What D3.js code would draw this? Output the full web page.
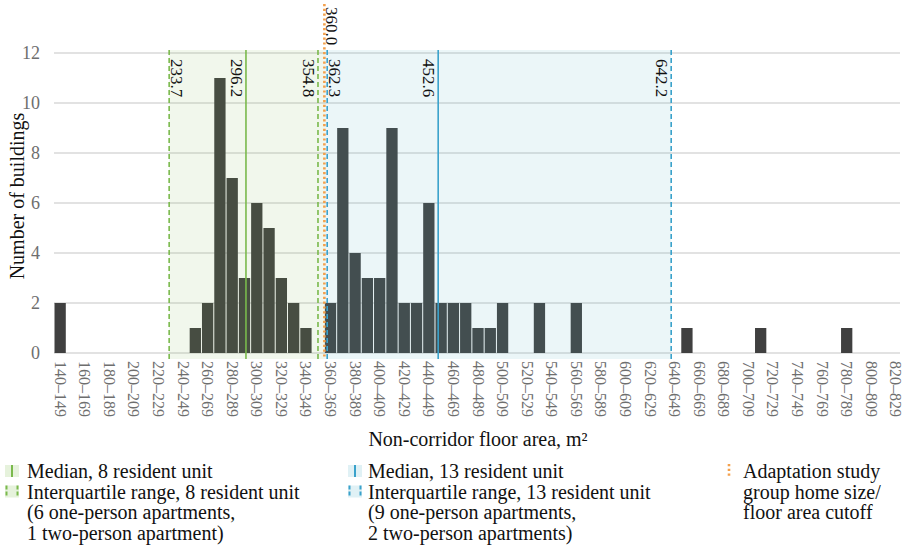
<!DOCTYPE html>
<html>
<head>
<meta charset="utf-8">
<script src="https://cdn.jsdelivr.net/npm/d3@7"></script>
<style>
  html, body { margin: 0; padding: 0; background: #fff; }
  svg { display: block; }
  svg text { font-family: "Liberation Serif", "Times New Roman", Times, "DejaVu Serif", serif; }
</style>
</head>
<body>
<svg id="chart" width="904" height="545"></svg>
<script>
// ---- data ----
const binLabels = [
  "140–149","150–159","160–169","170–179","180–189","190–199","200–209","210–219","220–229","230–239",
  "240–249","250–259","260–269","270–279","280–289","290–299","300–309","310–319","320–329","330–339",
  "340–349","350–359","360–369","370–379","380–389","390–399","400–409","410–419","420–429","430–439",
  "440–449","450–459","460–469","470–479","480–489","490–499","500–509","510–519","520–529","530–539",
  "540–549","550–559","560–569","570–579","580–589","590–599","600–609","610–619","620–629","630–639",
  "640–649","650–659","660–669","670–679","680–689","690–699","700–709","710–719","720–729","730–739",
  "740–749","750–759","760–769","770–779","780–789","790–799","800–809","810–819","820–829"
];
const binStarts = [
  140,150,160,170,180,190,200,210,220,230,
  240,250,260,270,280,290,300,310,320,330,
  340,350,360,370,380,390,400,410,420,430,
  440,450,460,470,480,490,500,510,520,530,
  540,550,560,570,580,590,600,610,620,630,
  640,650,660,670,680,690,700,710,720,730,
  740,750,760,770,780,790,800,810,820
];
const counts = [
  2,0,0,0,0,0,0,0,0,0,
  0,1,2,11,7,3,6,5,3,2,
  1,0,2,9,4,3,3,9,2,2,
  6,2,2,2,1,1,2,0,0,2,
  0,0,2,0,0,0,0,0,0,0,
  0,1,0,0,0,0,0,1,0,0,
  0,0,0,0,1,0,0,0,0
];
const yTicks = [0, 2, 4, 6, 8, 10, 12];
const markerNames  = ["iqr8Low", "median8", "iqr8High", "cutoff", "iqr13Low", "median13", "iqr13High"];
const markerValues = [233.7, 296.2, 354.8, 360.0, 362.3, 452.6, 642.2];
const markerLabels = ["233.7", "296.2", "354.8", "360.0", "362.3", "452.6", "642.2"];
const legend8  = ["Median, 8 resident unit", "Interquartile range, 8 resident unit", "(6 one-person apartments,", "1 two-person apartment)"];
const legend13 = ["Median, 13 resident unit", "Interquartile range, 13 resident unit", "(9 one-person apartments,", "2 two-person apartments)"];
const legendCut = ["Adaptation study", "group home size/", "floor area cutoff"];

// ---- styles ----
const FONT = "'Liberation Serif', 'Times New Roman', Times, 'DejaVu Serif', serif";
const GREEN = "#7ab94c", BLUE = "#3aa2cb", ORANGE = "#f3a04c";
const GREEN_BG = "rgba(125,185,80,0.11)", BLUE_BG = "rgba(90,180,200,0.12)";
const BAR = "#404040";

const svg = d3.select("#chart").attr("font-family", FONT);
const x = d3.scaleLinear().domain([140, 830]).range([54, 902]);
const y = d3.scaleLinear().domain([0, 12]).range([353, 53]);
const mv = name => markerValues[markerNames.indexOf(name)];

// gridlines
svg.append("g").selectAll("line").data(yTicks).join("line")
  .attr("x1", 54).attr("x2", 900)
  .attr("y1", d => y(d)).attr("y2", d => y(d))
  .attr("stroke", "#d8d8d8").attr("stroke-width", 1.5);

// y tick labels
svg.append("g").selectAll("text").data(yTicks).join("text")
  .attr("x", 40).attr("y", d => y(d)).attr("dy", "0.35em")
  .attr("text-anchor", "end").attr("font-size", 18).attr("fill", "#6e6e6e")
  .attr("font-family", FONT)
  .text(d => d);

// bars
svg.append("g").selectAll("rect").data(counts.map((c, i) => ({ s: binStarts[i], c })).filter(d => d.c > 0)).join("rect")
  .attr("x", d => x(d.s) + 0.5)
  .attr("width", d => x(d.s + 10) - x(d.s) - 1)
  .attr("y", d => y(d.c))
  .attr("height", d => y(0) - y(d.c))
  .attr("fill", BAR);

// shaded regions
const shTop = y(12) - 3, shBot = y(0) + 6;
svg.append("rect").attr("x", x(mv("iqr8Low"))).attr("width", x(mv("cutoff")) - x(mv("iqr8Low")))
  .attr("y", shTop).attr("height", shBot - shTop).attr("fill", GREEN_BG);
svg.append("rect").attr("x", x(mv("cutoff"))).attr("width", x(mv("iqr13High")) - x(mv("cutoff")))
  .attr("y", shTop).attr("height", shBot - shTop).attr("fill", BLUE_BG);

// marker lines
function vline(val, color, dash, top) {
  svg.append("line").attr("x1", x(val)).attr("x2", x(val))
    .attr("y1", top).attr("y2", shBot)
    .attr("stroke", color).attr("stroke-width", dash === "dot" ? 2.6 : 1.6)
    .attr("stroke-dasharray", dash === "dash" ? "5,3" : dash === "dot" ? "2.2,2.6" : null);
}
vline(mv("iqr8Low"), GREEN, "dash", shTop);
vline(mv("median8"), GREEN, null, shTop);
vline(mv("iqr8High"), GREEN, "dash", shTop);
vline(mv("iqr13Low"), BLUE, "dash", shTop);
vline(mv("median13"), BLUE, null, shTop);
vline(mv("iqr13High"), BLUE, "dash", shTop);
vline(mv("cutoff"), ORANGE, "dot", 4);

// marker labels (rotated, reading top to bottom)
const labelSide = { iqr8Low: "right", median8: "left", iqr8High: "left", cutoff: "right", iqr13Low: "right", median13: "left", iqr13High: "left" };
markerNames.forEach((n, i) => {
  const xv = x(markerValues[i]);
  const yTop = n === "cutoff" ? 7 : 59;
  const bx = labelSide[n] === "right" ? xv + 1.5 : xv - 15;
  svg.append("text")
    .attr("transform", `translate(${bx},${yTop}) rotate(90)`)
    .attr("font-size", 17).attr("fill", "#111").attr("font-family", FONT)
    .attr("text-anchor", "start")
    .text(markerLabels[i]);
});

// x tick labels (every other bin)
svg.append("g").selectAll("text").data(binLabels.map((l, i) => ({ l, s: binStarts[i] })).filter((d, i) => i % 2 === 0)).join("text")
  .attr("transform", d => `translate(${(x(d.s) + x(d.s + 10)) / 2 - 5.5},${361}) rotate(90)`)
  .attr("font-size", 16).attr("fill", "#6e6e6e").attr("font-family", FONT)
  .text(d => d.l);

// axis titles
svg.append("text").attr("x", 478).attr("y", 446).attr("text-anchor", "middle")
  .attr("font-size", 20).attr("fill", "#111").attr("font-family", FONT).text("Non-corridor floor area, m²");
svg.append("text").attr("transform", "translate(24,196) rotate(-90)").attr("text-anchor", "middle")
  .attr("font-size", 20).attr("fill", "#111").attr("font-family", FONT).text("Number of buildings");

// legend
const rowY = [478, 498.5, 519, 539.5];
function legendCol(x0, tx, lines, color, bg) {
  svg.append("rect").attr("x", x0).attr("y", rowY[0] - 13).attr("width", 14).attr("height", 12).attr("fill", bg);
  svg.append("line").attr("x1", x0 + 7).attr("x2", x0 + 7).attr("y1", rowY[0] - 13).attr("y2", rowY[0] - 1)
    .attr("stroke", color).attr("stroke-width", 2);
  svg.append("rect").attr("x", x0).attr("y", rowY[1] - 13).attr("width", 14).attr("height", 12).attr("fill", bg);
  [x0 + 1.5, x0 + 12.5].forEach(lx => svg.append("line").attr("x1", lx).attr("x2", lx)
    .attr("y1", rowY[1] - 13).attr("y2", rowY[1] - 1)
    .attr("stroke", color).attr("stroke-width", 2).attr("stroke-dasharray", "4,2"));
  lines.forEach((t, i) => svg.append("text").attr("x", tx).attr("y", rowY[i])
    .attr("font-size", 20).attr("fill", "#111").attr("font-family", FONT).text(t));
}
legendCol(5, 27, legend8, GREEN, "#e6f2dc");
legendCol(348, 368, legend13, BLUE, "#e0f1f5");
svg.append("line").attr("x1", 729).attr("x2", 729).attr("y1", rowY[0] - 14).attr("y2", rowY[0])
  .attr("stroke", ORANGE).attr("stroke-width", 2.6).attr("stroke-dasharray", "2.2,2.6");
legendCut.forEach((t, i) => svg.append("text").attr("x", 743).attr("y", rowY[i])
  .attr("font-size", 20).attr("fill", "#111").attr("font-family", FONT).text(t));
</script>
</body>
</html>
